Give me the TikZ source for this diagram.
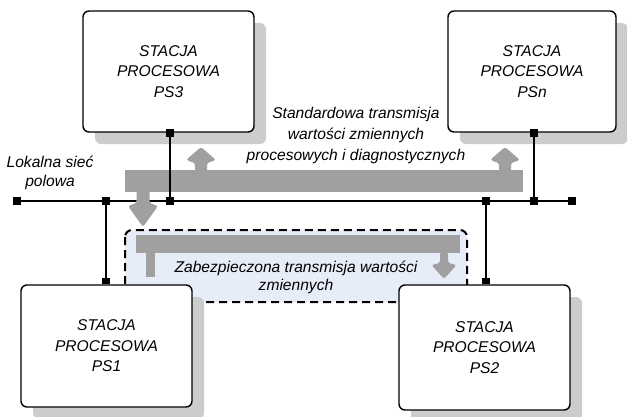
\documentclass[tikz,border=0pt]{standalone}
\usepackage{fontspec}
\setmainfont{Liberation Sans}
\usetikzlibrary{shadows,backgrounds}
\definecolor{bandgray}{HTML}{A0A0A0}
\definecolor{shadowgray}{HTML}{CCCCCC}
\definecolor{securefill}{HTML}{E7EDF8}
\newcommand\labelfont{\fontsize{15.6}{20.5}\selectfont\itshape}
\begin{document}
\begin{tikzpicture}[x=1pt,y=-1pt,
  station/.style={draw=black, line width=1.4pt, rounded corners=6pt, fill=white,
    align=center, font=\labelfont,
    drop shadow={shadow xshift=12pt, shadow yshift=-12pt, fill=shadowgray, opacity=1}},
  buswire/.style={draw=black, line width=2.2pt},
  dropwire/.style={draw=black, line width=2pt},
  tap/.style={fill=black, inner sep=0pt, minimum size=8.5pt},
  band/.style={fill=bandgray, draw=none},
  securezone/.style={draw=black, line width=2pt, dash pattern=on 8pt off 5pt,
    fill=securefill, rounded corners=7pt},
  caption/.style={align=center, inner sep=0pt}]
\useasboundingbox (0,0) rectangle (627,416);

% secure transmission zone
\begin{scope}[on background layer]
  \draw[securezone] (125,230) rectangle (467,302);
\end{scope}

% process stations
\node[station, minimum width=171pt, minimum height=121pt] (ps3) at (168.5,71.5)
  {STACJA\\PROCESOWA\\PS3};
\node[station, minimum width=168pt, minimum height=121pt] (psn) at (532,71.5)
  {STACJA\\PROCESOWA\\PSn};
\node[station, minimum width=171pt, minimum height=122pt] (ps1) at (106.5,346)
  {STACJA\\PROCESOWA\\PS1};
\node[station, minimum width=171pt, minimum height=125pt] (ps2) at (484.5,347.5)
  {STACJA\\PROCESOWA\\PS2};

% local field bus
\coordinate (busL) at (17,201);
\coordinate (busR) at (572,201);
\coordinate (j1) at (106,201);
\coordinate (j3) at (170,201);
\coordinate (j2) at (486,201);
\coordinate (jn) at (534,201);
\draw[buswire] (busL) -- (busR);

% standard transmission band with its arrows
\fill[band] (125,170) rectangle (523,192);
\fill[band, rounded corners=2.5pt] (195,172) -- (195,163) -- (186,160) -- (201,147)
  -- (216,160) -- (207,163) -- (207,172) -- cycle;
\fill[band, rounded corners=2.5pt] (499,172) -- (499,163) -- (490,160) -- (505,147)
  -- (520,160) -- (511,163) -- (511,172) -- cycle;
\fill[band, rounded corners=2.5pt] (136.5,190) -- (136.5,203) -- (128,206) -- (143,227)
  -- (158,206) -- (149.5,203) -- (149.5,190) -- cycle;

% secure transmission band
\fill[band] (136,235) rectangle (460,253);
\fill[band] (146,252) rectangle (155,277);
\fill[band, rounded corners=2.5pt] (440,252) -- (440,263) -- (431.5,265) -- (444,279)
  -- (456.5,265) -- (448,263) -- (448,252) -- cycle;

% station drops
\draw[dropwire] (j3 |- ps3.south) -- (j3);
\draw[dropwire] (jn |- psn.south) -- (jn);
\draw[dropwire] (j1) -- (j1 |- ps1.north);
\draw[dropwire] (j2) -- (j2 |- ps2.north);

% bus taps
\node[tap] (tL) at (busL) {};
\node[tap] (tR) at (busR) {};
\node[tap] (t1) at (j1) {};
\node[tap] (t3) at (j3) {};
\node[tap] (t2) at (j2) {};
\node[tap] (tn) at (jn) {};
\node[tap, minimum width=8pt, minimum height=8pt] (s3) at (j3 |- ps3.south) {};
\node[tap, minimum width=8pt, minimum height=8pt] (sn) at (jn |- psn.south) {};
\node[tap, minimum width=8pt, minimum height=6pt, anchor=south] (s1) at (j1 |- ps1.north) {};
\node[tap, minimum width=8pt, minimum height=6pt, anchor=south] (s2) at (j2 |- ps2.north) {};

% captions
\node[caption, font=\fontsize{15.6}{19}\selectfont\itshape] (buslabel) at (50,172.5)
  {Lokalna sieć\\polowa};
\node[caption, font=\fontsize{15.6}{21}\selectfont\itshape] (stdlabel) at (356,135)
  {Standardowa transmisja\\wartości zmiennych\\procesowych i diagnostycznych};
\node[caption, font=\fontsize{15.6}{18}\selectfont\itshape] (seclabel) at (296,277)
  {Zabezpieczona transmisja wartości\\zmiennych};
\end{tikzpicture}
\end{document}
